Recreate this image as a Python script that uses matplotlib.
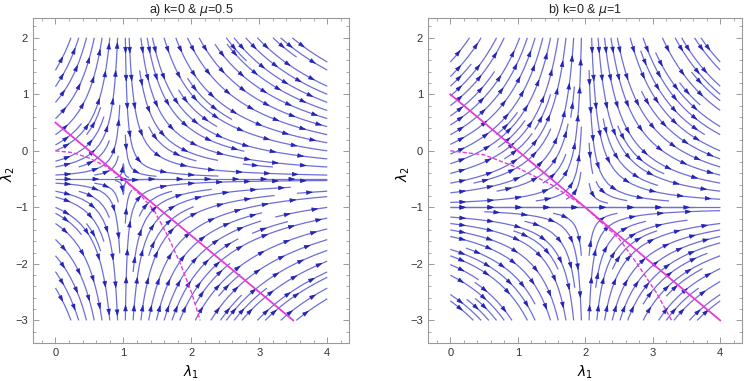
import numpy as np
import matplotlib.pyplot as plt
from matplotlib.patches import FancyArrowPatch
from matplotlib.ticker import MultipleLocator

plt.rcParams['font.family'] = ['Liberation Sans', 'DejaVu Sans']
plt.rcParams['mathtext.fontset'] = 'dejavusans'

# parameters of the two panels
mu_values = [0.5, 1.0]
titles = ['a) k=0 & $\\mu$=0.5', 'b) k=0 & $\\mu$=1']

# solid magenta line (end points)
line_l1 = [[0.0, 3.5], [0.0, 4.0]]
line_l2 = [[0.5, -3.0], [1.0, -3.0]]

# dashed magenta curve
dash_l1 = [[0.0, 0.25, 0.5, 0.75, 1.0, 1.25, 1.45, 1.65, 1.84, 2.0, 2.13],
           [0.0, 0.5, 1.0, 1.5, 2.0, 2.5, 2.77, 3.05, 3.28]]
dash_l2 = [[0.0, -0.03, -0.13, -0.28, -0.5, -0.78, -1.05, -1.5, -2.0, -2.5, -3.0],
           [0.0, -0.07, -0.3, -0.6, -1.0, -1.55, -2.0, -2.5, -3.0]]

x_ticks = [0, 1, 2, 3, 4]
y_ticks = [-3, -2, -1, 0, 1, 2]

line_color = '#6e6ed8'
arrow_color = '#2424b8'
magenta = '#e83ad8'
frame_color = '#9a9a9a'

fig = plt.figure(figsize=(7.47, 3.81), dpi=100)
positions = [[0.0442, 0.0997, 0.4230, 0.8530],
             [0.5730, 0.0997, 0.4200, 0.8530]]


def chain_segments(segs):
    # join pieces that continue each other back into whole streamlines
    lines = []
    cur = list(segs[0])
    for s in segs[1:]:
        if len(s) and np.allclose(s[0], cur[-1]):
            cur.extend(s[1:])
        else:
            lines.append(np.array(cur))
            cur = list(s)
    lines.append(np.array(cur))
    return lines


for i, mu in enumerate(mu_values):
    ax = fig.add_axes(positions[i])
    ax.set_xlim(-0.33, 4.32)
    ax.set_ylim(-3.40, 2.35)

    # flow field around the fixed point (2 mu, -mu)
    l1 = np.linspace(0, 4, 160)
    l2 = np.linspace(-3, 2, 200)
    L1, L2 = np.meshgrid(l1, l2)
    X = L1 - 2 * mu
    Y = L2 + mu
    U = X ** 2
    V = -X * Y

    sp = ax.streamplot(L1, L2, U, V, density=1.2, color=line_color,
                       linewidth=0.9, arrowsize=0.1)
    # the straight flow line through the fixed point
    sp2 = ax.streamplot(L1, L2, U, V, start_points=[[0.0, -mu]], color=line_color,
                        linewidth=0.9, arrowsize=0.1, broken_streamlines=False)
    for p in list(ax.patches):
        p.remove()

    # arrows at a regular spacing along each streamline, Mathematica style
    spacing, first = 28.0, 14.0
    inv = ax.transData.inverted()
    all_lines = chain_segments(sp.lines.get_segments()) + chain_segments(sp2.lines.get_segments())
    for pts in all_lines:
        if len(pts) < 2:
            continue
        disp = ax.transData.transform(pts)
        d = np.hypot(*np.diff(disp, axis=0).T)
        s = np.concatenate([[0], np.cumsum(d)])
        total = s[-1]
        pos = first
        while pos < total - 6:
            tail = inv.transform([np.interp(pos - 3, s, disp[:, 0]),
                                  np.interp(pos - 3, s, disp[:, 1])])
            head = inv.transform([np.interp(pos + 2, s, disp[:, 0]),
                                  np.interp(pos + 2, s, disp[:, 1])])
            ax.add_patch(FancyArrowPatch(tail, head,
                                         arrowstyle='-|>,head_length=0.65,head_width=0.22',
                                         mutation_scale=6, color=arrow_color, lw=0.5,
                                         shrinkA=0, shrinkB=0, zorder=3))
            pos += spacing

    ax.plot(line_l1[i], line_l2[i], color=magenta, lw=1.3, zorder=5)
    ax.plot(dash_l1[i], dash_l2[i], color=magenta, lw=1.0, ls=(0, (3, 1.5)), zorder=5)

    ax.set_xticks(x_ticks)
    ax.set_yticks(y_ticks)
    ax.xaxis.set_minor_locator(MultipleLocator(0.2))
    ax.yaxis.set_minor_locator(MultipleLocator(0.2))
    ax.tick_params(which='both', direction='in', top=True, right=True,
                   color=frame_color, labelsize=8, labelcolor='#333333')
    ax.tick_params(which='major', length=4, width=0.7)
    ax.tick_params(which='minor', length=2, width=0.6)
    for s in ax.spines.values():
        s.set_color(frame_color)
        s.set_linewidth(0.8)

    ax.set_title(titles[i], fontsize=9, pad=3, color='#222222')
    ax.set_xlabel('$\\lambda_1$', fontsize=10, labelpad=4)
    ax.set_ylabel('$\\lambda_2$', fontsize=10)
    ax.yaxis.set_label_coords(-0.05, 0.52)

fig.savefig('out.png', dpi=100)
